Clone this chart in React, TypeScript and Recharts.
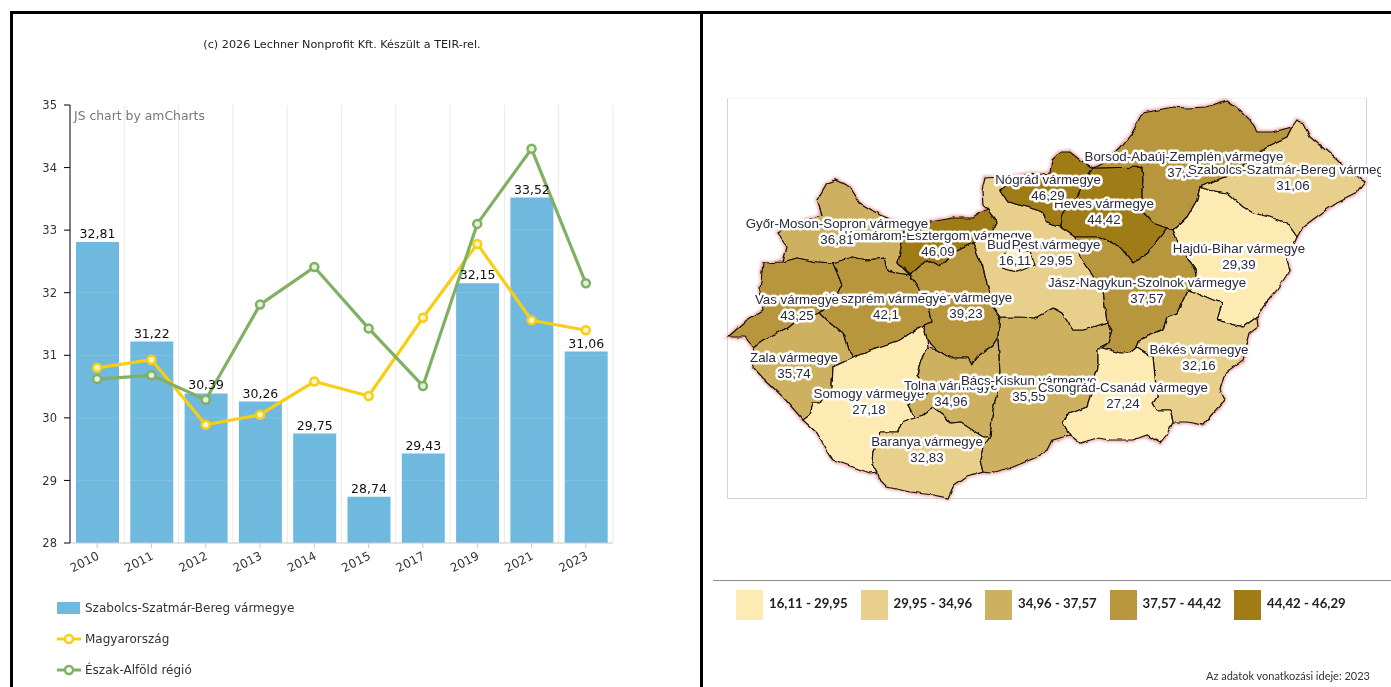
import {
  Bar,
  CartesianGrid,
  ComposedChart,
  LabelList,
  Legend,
  Line,
  Polygon,
  ReferenceLine,
  Scatter,
  ScatterChart,
  XAxis,
  YAxis,
} from 'recharts';

const years = ['2010', '2011', '2012', '2013', '2014', '2015', '2017', '2019', '2021', '2023'];
const szabolcsValues = [32.81, 31.22, 30.39, 30.26, 29.75, 28.74, 29.43, 32.15, 33.52, 31.06];
const hungaryValues = [30.8, 30.93, 29.89, 30.05, 30.58, 30.35, 31.6, 32.78, 31.56, 31.4];
const regionValues = [30.62, 30.68, 30.29, 31.81, 32.41, 31.43, 30.51, 33.1, 34.3, 32.15];
const yTicks = [28, 29, 30, 31, 32, 33, 34, 35];

const legendRanges = ['16,11 - 29,95', '29,95 - 34,96', '34,96 - 37,57', '37,57 - 44,42', '44,42 - 46,29'];
const legendColors = ['#FDEBB3', '#E8D08C', '#CDB160', '#B8963E', '#A07C14'];

// map outlines, in the picture's own pixel space (the chart's axes map them back)
type Pt = [number, number];
const gyor: Pt[] = [[817, 200], [827, 183], [835, 180], [850, 187], [860, 203], [880, 215], [905, 225], [902, 243], [898, 263], [910, 275], [897, 273], [888, 270], [885, 258], [867, 260], [852, 257], [833, 263], [817, 262], [797, 258], [783, 262], [787, 247], [777, 233], [790, 225], [822, 215]];
const komarom: Pt[] = [[905, 225], [930, 222], [953, 218], [973, 218], [987, 209], [997, 222], [992, 232], [973, 243], [953, 253], [940, 267], [927, 260], [910, 275], [898, 263], [902, 243]];
const vas: Pt[] = [[763, 263], [783, 262], [797, 258], [817, 262], [833, 263], [838, 275], [842, 285], [835, 300], [820, 313], [797, 320], [787, 328], [763, 340], [753, 347], [745, 337], [728, 337], [747, 320], [763, 310], [760, 290]];
const veszprem: Pt[] = [[833, 263], [852, 257], [867, 260], [885, 258], [888, 270], [897, 273], [910, 275], [918, 287], [927, 300], [930, 310], [932, 322], [923, 325], [900, 340], [870, 350], [853, 357], [848, 350], [843, 333], [827, 320], [820, 313], [835, 300], [842, 285], [838, 275]];
const fejer: Pt[] = [[910, 275], [927, 260], [940, 267], [953, 253], [973, 243], [983, 267], [993, 307], [1000, 317], [998, 337], [993, 345], [977, 357], [972, 365], [968, 358], [950, 358], [937, 350], [927, 340], [923, 325], [932, 322], [930, 310], [927, 300], [918, 287]];
const zala: Pt[] = [[753, 347], [763, 340], [787, 328], [797, 320], [820, 313], [827, 320], [843, 333], [848, 350], [853, 357], [848, 360], [833, 367], [832, 387], [820, 403], [813, 403], [810, 415], [803, 420], [783, 397], [763, 378], [753, 367], [755, 357]];
const somogy: Pt[] = [[853, 357], [870, 350], [900, 340], [923, 325], [927, 340], [928, 348], [920, 362], [917, 375], [930, 392], [908, 405], [915, 418], [902, 422], [898, 432], [880, 432], [873, 452], [872, 463], [877, 472], [870, 473], [853, 467], [833, 460], [817, 433], [803, 420], [810, 415], [813, 403], [820, 403], [832, 387], [833, 367], [848, 360]];
const tolna: Pt[] = [[928, 348], [937, 350], [950, 358], [968, 358], [972, 365], [977, 357], [993, 345], [998, 337], [1000, 372], [997, 393], [993, 410], [990, 437], [983, 437], [960, 422], [950, 423], [943, 415], [933, 407], [923, 415], [915, 418], [908, 405], [930, 392], [917, 375], [920, 362]];
const baranya: Pt[] = [[880, 432], [898, 432], [902, 422], [915, 418], [923, 415], [933, 407], [943, 415], [950, 423], [960, 422], [983, 437], [990, 437], [983, 447], [980, 460], [983, 472], [967, 477], [953, 487], [948, 498], [933, 495], [910, 492], [887, 487], [878, 478], [877, 472], [872, 463], [873, 452]];
const bacs: Pt[] = [[1000, 317], [1020, 317], [1035, 318], [1053, 308], [1062, 313], [1073, 330], [1083, 330], [1107, 322], [1112, 330], [1108, 343], [1098, 348], [1098, 368], [1095, 378], [1090, 398], [1087, 407], [1067, 415], [1063, 423], [1070, 435], [1053, 440], [1048, 450], [1037, 457], [1013, 467], [990, 473], [983, 472], [980, 460], [983, 447], [990, 437], [993, 410], [997, 393], [1000, 372], [998, 337]];
const pest: Pt[] = [[985, 178], [1020, 176], [1000, 190], [1008, 202], [1027, 207], [1043, 212], [1047, 223], [1060, 227], [1075, 237], [1080, 257], [1093, 277], [1103, 290], [1107, 322], [1083, 330], [1073, 330], [1062, 313], [1053, 308], [1035, 318], [1020, 317], [1000, 317], [993, 307], [983, 267], [973, 243], [992, 232], [997, 222], [987, 209], [983, 205], [982, 190]];
const budapest: Pt[] = [[1000, 257], [1012, 248], [1030, 252], [1035, 265], [1017, 272], [1002, 268]];
const nograd: Pt[] = [[1000, 190], [1020, 176], [1050, 172], [1052, 160], [1060, 152], [1070, 152], [1080, 160], [1093, 168], [1085, 180], [1077, 197], [1062, 213], [1060, 227], [1047, 223], [1043, 212], [1027, 207], [1008, 202]];
const heves: Pt[] = [[1093, 168], [1142, 167], [1143, 180], [1142, 193], [1143, 212], [1153, 223], [1167, 228], [1147, 253], [1133, 263], [1120, 247], [1100, 237], [1075, 237], [1060, 227], [1062, 213], [1077, 197], [1085, 180]];
const borsod: Pt[] = [[1093, 168], [1105, 162], [1120, 148], [1132, 133], [1143, 113], [1173, 107], [1187, 108], [1207, 107], [1227, 100], [1237, 107], [1250, 120], [1257, 132], [1273, 132], [1292, 127], [1287, 137], [1270, 145], [1230, 175], [1200, 187], [1197, 200], [1187, 217], [1173, 230], [1167, 228], [1153, 223], [1143, 212], [1142, 193], [1143, 180], [1142, 167]];
const szabolcs: Pt[] = [[1292, 127], [1297, 120], [1303, 123], [1310, 137], [1323, 148], [1337, 160], [1347, 170], [1365, 182], [1357, 193], [1337, 203], [1323, 212], [1303, 227], [1297, 237], [1287, 223], [1273, 218], [1253, 213], [1243, 207], [1227, 193], [1207, 190], [1200, 187], [1230, 175], [1270, 145], [1287, 137]];
const hajdu: Pt[] = [[1200, 187], [1207, 190], [1227, 193], [1243, 207], [1253, 213], [1273, 218], [1287, 223], [1297, 237], [1287, 260], [1290, 270], [1277, 290], [1263, 307], [1257, 317], [1243, 327], [1217, 320], [1222, 303], [1213, 300], [1197, 293], [1188, 290], [1197, 283], [1195, 270], [1180, 247], [1173, 230], [1187, 217], [1197, 200]];
const jasz: Pt[] = [[1075, 237], [1100, 237], [1120, 247], [1133, 263], [1147, 253], [1167, 228], [1173, 230], [1180, 247], [1195, 270], [1197, 283], [1188, 290], [1177, 313], [1167, 317], [1163, 330], [1140, 340], [1137, 347], [1130, 353], [1120, 353], [1102, 348], [1108, 343], [1112, 330], [1107, 322], [1103, 290], [1093, 277], [1080, 257]];
const bekes: Pt[] = [[1188, 290], [1197, 293], [1213, 300], [1222, 303], [1217, 320], [1243, 327], [1257, 317], [1258, 327], [1250, 333], [1243, 360], [1225, 373], [1220, 390], [1225, 400], [1213, 413], [1203, 425], [1187, 422], [1173, 422], [1170, 410], [1157, 410], [1153, 403], [1157, 397], [1153, 357], [1137, 347], [1140, 340], [1163, 330], [1167, 317], [1177, 313]];
const csongrad: Pt[] = [[1098, 368], [1098, 348], [1102, 348], [1120, 353], [1130, 353], [1137, 347], [1153, 357], [1157, 397], [1153, 403], [1157, 410], [1170, 410], [1173, 422], [1168, 433], [1160, 443], [1147, 435], [1133, 440], [1110, 440], [1097, 438], [1080, 443], [1070, 435], [1063, 423], [1067, 415], [1087, 407], [1090, 398], [1095, 378]];

const countyOutlines = [gyor, komarom, vas, veszprem, fejer, zala, somogy, tolna, baranya, bacs, pest, budapest, nograd, heves, borsod, szabolcs, hajdu, jasz, bekes, csongrad];
const countyBands = [2, 4, 3, 3, 3, 2, 0, 2, 1, 2, 1, 0, 4, 4, 3, 1, 0, 3, 1, 0];

// draw order matters: later labels sit on top of earlier ones
const labelNames = ['Komárom-Esztergom vármegye', 'Győr-Moson-Sopron vármegye', 'Fejér vármegye', 'Veszprém vármegye', 'Vas vármegye', 'Zala vármegye', 'Somogy vármegye', 'Tolna vármegye', 'Bács-Kiskun vármegye', 'Csongrád-Csanád vármegye', 'Baranya vármegye', 'Budapest', 'Pest vármegye', 'Heves vármegye', 'Nógrád vármegye', 'Borsod-Abaúj-Zemplén vármegye', 'Szabolcs-Szatmár-Bereg vármegye', 'Hajdú-Bihar vármegye', 'Jász-Nagykun-Szolnok vármegye', 'Békés vármegye'];
const labelValues = ['46,09', '36,81', '39,23', '42,1', '43,25', '35,74', '27,18', '34,96', '35,55', '27,24', '32,83', '16,11', '29,95', '44,42', '46,29', '37,85', '31,06', '29,39', '37,57', '32,16'];
const labelX = [938, 837, 966, 886, 797, 794, 869, 951, 1029, 1123, 927, 1015, 1056, 1104, 1048, 1184, 1293, 1239, 1147, 1199];
const labelY = [240, 228, 302, 303, 304, 362, 398, 390, 385, 392, 446, 249, 249, 208, 184, 161, 174, 253, 287, 354];

const FONT = '"DejaVu Sans", Verdana, sans-serif';
const MAP_FONT = '"Liberation Sans", Arial, sans-serif';

const chartData = years.map((year, i) => ({
  year,
  szabolcs: szabolcsValues[i],
  hungary: hungaryValues[i],
  region: regionValues[i],
}));

const labelData = labelNames.map((name, i) => ({ x: labelX[i], y: labelY[i], name, value: labelValues[i] }));

function ChartLegend({ payload }: any) {
  return (
    <div>
      {(payload ?? []).map((item: any) => (
        <div key={item.value} style={{ display: 'flex', alignItems: 'center', height: 31, fontFamily: FONT, fontSize: 12, color: '#333' }}>
          {item.type === 'line' ? (
            <svg width={24} height={12} style={{ marginRight: 4 }}>
              <line x1={0} x2={24} y1={6} y2={6} stroke={item.color} strokeWidth={3} />
              <circle cx={12} cy={6} r={4} fill="#fff" stroke={item.color} strokeWidth={2.5} />
            </svg>
          ) : (
            <div style={{ width: 23, height: 12, background: item.color, marginRight: 5 }} />
          )}
          {item.value}
        </div>
      ))}
    </div>
  );
}

function MapLabel({ cx, cy, payload }: any) {
  const textProps = {
    x: cx,
    textAnchor: 'middle' as const,
    fontFamily: MAP_FONT,
    fontSize: 13.3,
    fill: '#2b2b3b',
    stroke: '#fff',
    strokeWidth: 5,
    strokeLinejoin: 'round' as const,
    paintOrder: 'stroke',
  };
  return (
    <g>
      <text {...textProps} y={cy}>{payload.name}</text>
      <text {...textProps} y={cy + 15.5}>{payload.value}</text>
    </g>
  );
}

function LeftChart() {
  return (
    <ComposedChart
      width={700}
      height={687}
      data={chartData}
      margin={{ top: 105, right: 87, bottom: 0, left: 0 }}
      barCategoryGap={0}
    >
      <CartesianGrid
        horizontal={false}
        stroke="#e9e9e9"
        verticalCoordinatesGenerator={({ offset }: any) =>
          years.map((_, i) => offset.left + (offset.width * (i + 1)) / years.length)
        }
      />
      <XAxis
        dataKey="year"
        height={144}
        interval={0}
        angle={-27}
        textAnchor="end"
        dx={-1}
        dy={1}
        tickSize={5}
        stroke="#c8c8c8"
        tick={{ fontFamily: FONT, fontSize: 12, fill: '#333' }}
      />
      <YAxis
        width={70}
        domain={[28, 35]}
        ticks={yTicks}
        interval={0}
        tickSize={6}
        tickMargin={7}
        allowDataOverflow
        stroke="#000"
        tick={{ fontFamily: FONT, fontSize: 11.5, fill: '#333' }}
      />
      <Bar dataKey="szabolcs" name="Szabolcs-Szatmár-Bereg vármegye" fill="#6FB8DE" barSize={43} isAnimationActive={false}>
        <LabelList
          dataKey="szabolcs"
          position="top"
          offset={4}
          formatter={(v: any) => String(v).replace('.', ',')}
          style={{ fontFamily: FONT, fontSize: 12.5, fill: '#111' }}
        />
      </Bar>
      {yTicks.map((t) => (
        <ReferenceLine key={t} y={t} stroke="#fff" strokeOpacity={0.15} />
      ))}
      <Line
        dataKey="hungary"
        name="Magyarország"
        stroke="#F7CE14"
        strokeWidth={3.2}
        dot={{ r: 4, fill: '#fff6c4', stroke: '#F7CE14', strokeWidth: 2.5 }}
        isAnimationActive={false}
      />
      <Line
        dataKey="region"
        name="Észak-Alföld régió"
        stroke="#80B063"
        strokeWidth={3.2}
        dot={{ r: 4, fill: '#e6f1dd', stroke: '#80B063', strokeWidth: 2.5 }}
        isAnimationActive={false}
      />
      <Legend
        layout="vertical"
        align="center"
        verticalAlign="middle"
        itemSorter={null}
        content={<ChartLegend />}
        wrapperStyle={{ left: 57, top: 592, width: 300 }}
      />
    </ComposedChart>
  );
}

function MapChart() {
  return (
    <ScatterChart width={677} height={687} margin={{ top: 0, right: 0, bottom: 0, left: 0 }}>
      <XAxis type="number" dataKey="x" domain={[704, 1381]} hide allowDataOverflow />
      <YAxis type="number" dataKey="y" domain={[0, 687]} reversed hide allowDataOverflow />
      {/* pink glow under the country edge */}
      {countyOutlines.map((outline, i) => (
        <Scatter
          key={`glow${i}`}
          data={outline.map(([x, y]) => ({ x, y }))}
          shape={() => <g />}
          line={(p: any) => (
            <g filter="url(#map-glow)">
              <Polygon points={p.points} fill="#f3c6c6" stroke="#eda9a9" strokeWidth={4} />
            </g>
          )}
          isAnimationActive={false}
        />
      ))}
      {countyOutlines.map((outline, i) => (
        <Scatter
          key={`county${i}`}
          data={outline.map(([x, y]) => ({ x, y }))}
          shape={() => <g />}
          line={(p: any) => (
            <g filter="url(#map-jag)">
              <Polygon points={p.points} fill={legendColors[countyBands[i]]} stroke="#17110a" strokeWidth={1.2} />
            </g>
          )}
          isAnimationActive={false}
        />
      ))}
      <Scatter data={labelData} shape={<MapLabel />} isAnimationActive={false} />
    </ScatterChart>
  );
}

export default function App() {
  return (
    <div style={{ position: 'absolute', left: 0, top: 0, width: 1391, height: 687, overflow: 'hidden', background: '#fff', filter: 'blur(0.45px)' }}>
      <svg width={0} height={0} style={{ position: 'absolute' }}>
        <defs>
          <filter id="map-jag" filterUnits="userSpaceOnUse" x={0} y={0} width={700} height={687}>
            <feTurbulence type="fractalNoise" baseFrequency={0.1} numOctaves={2} seed={4} />
            <feDisplacementMap in="SourceGraphic" scale={4} xChannelSelector="R" yChannelSelector="G" />
          </filter>
          <filter id="map-glow" filterUnits="userSpaceOnUse" x={0} y={0} width={700} height={687}>
            <feTurbulence type="fractalNoise" baseFrequency={0.1} numOctaves={2} seed={4} />
            <feDisplacementMap in="SourceGraphic" scale={4} xChannelSelector="R" yChannelSelector="G" />
            <feGaussianBlur stdDeviation={1.4} />
          </filter>
        </defs>
      </svg>

      <div style={{ position: 'absolute', left: 0, width: 684, top: 38, textAlign: 'center', fontFamily: FONT, fontSize: 11.2, color: '#222' }}>
        (c) 2026 Lechner Nonprofit Kft. Készült a TEIR-rel.
      </div>
      <div style={{ position: 'absolute', left: 0, top: 0 }}>
        <LeftChart />
      </div>
      <div style={{ position: 'absolute', left: 74, top: 108, fontFamily: FONT, fontSize: 12.4, color: '#777' }}>
        JS chart by amCharts
      </div>

      <div style={{ position: 'absolute', left: 727, top: 98, width: 638, height: 399, border: '1px solid #d4d4d4', borderTopColor: '#f2f2f2' }} />
      <div style={{ position: 'absolute', left: 704, top: 0 }}>
        <MapChart />
      </div>

      <div style={{ position: 'absolute', left: 713, top: 580, width: 678, height: 1, background: '#8d8d8d' }} />
      {legendRanges.map((range, i) => (
        <div key={range} style={{ position: 'absolute', left: 736 + i * 124.5, top: 590, display: 'flex', alignItems: 'center' }}>
          <div style={{ width: 27, height: 30, background: legendColors[i], marginRight: 6 }} />
          <span style={{ fontFamily: 'Lato, sans-serif', fontWeight: 700, fontSize: 13.2, color: '#222', whiteSpace: 'nowrap', position: 'relative', top: -2 }}>{range}</span>
        </div>
      ))}
      <div style={{ position: 'absolute', right: 21, top: 669, fontFamily: 'Lato, sans-serif', fontSize: 11, color: '#333' }}>
        Az adatok vonatkozási ideje: 2023
      </div>

      {/* black panel frame */}
      <div style={{ position: 'absolute', left: 10, top: 11, width: 1381, height: 3, background: '#000' }} />
      <div style={{ position: 'absolute', left: 10, top: 11, width: 3, height: 676, background: '#000' }} />
      <div style={{ position: 'absolute', left: 700, top: 11, width: 3, height: 676, background: '#000' }} />
    </div>
  );
}
